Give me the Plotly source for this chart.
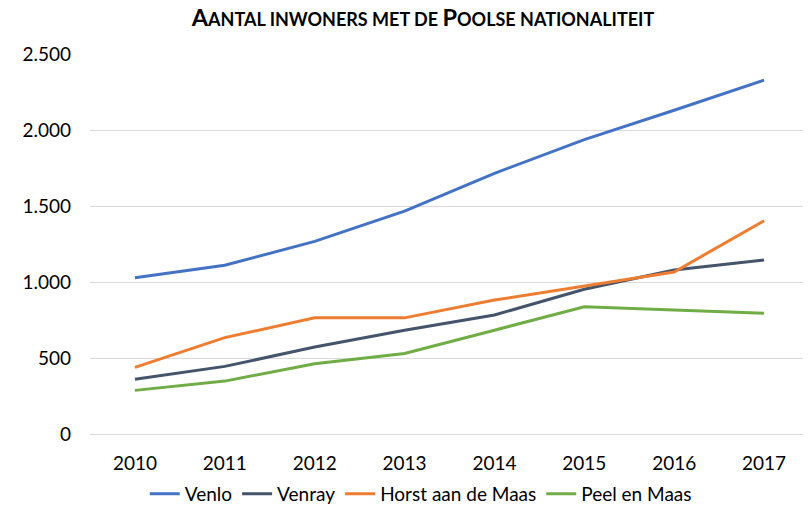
import plotly.graph_objects as go

years = ["2010", "2011", "2012", "2013", "2014", "2015", "2016", "2017"]
venlo = [1028, 1110, 1267, 1466, 1715, 1937, 2130, 2328]
venray = [360, 445, 572, 683, 783, 952, 1079, 1145]
horst = [438, 634, 764, 764, 881, 972, 1066, 1403]
peel = [287, 348, 462, 530, 683, 837, 815, 794]

series = [
    ("Venlo", venlo, "#4472C4"),
    ("Venray", venray, "#44546A"),
    ("Horst aan de Maas", horst, "#ED7D31"),
    ("Peel en Maas", peel, "#70AD47"),
]

fig = go.Figure()
for name, vals, col in series:
    fig.add_trace(go.Scatter(x=years, y=vals, name=name, mode="lines",
                             line=dict(color=col, width=3)))

font_family = "Lato, 'Open Sans', sans-serif"
big = "<span style='font-size:23.5px'>{}</span>"
title_text = (big.format("A") + "ANTAL INWONERS MET DE " + big.format("P")
              + "OOLSE NATIONALITEIT")

fig.update_layout(
    width=803, height=500,
    margin=dict(l=82, r=2, t=46, b=74, autoexpand=False),
    paper_bgcolor="white", plot_bgcolor="white",
    separators=",.",
    font=dict(family=font_family, size=19, color="#000000"),
    title=dict(text=title_text,
               x=0.5168, xanchor="center", xref="container",
               y=0.976, yanchor="middle", yref="container",
               font=dict(family=font_family, size=18, color="#000000",
                         weight="bold")),
    xaxis=dict(type="category", range=[-0.5, 7.5], showgrid=False,
               showline=False, zeroline=False, automargin=False,
               ticks="", tickfont=dict(size=19), ticklabelstandoff=16),
    yaxis=dict(range=[0, 2500], dtick=500, tickformat=",d", showgrid=True,
               gridcolor="#D9D9D9", gridwidth=1, zeroline=True,
               zerolinecolor="#D9D9D9", zerolinewidth=1, showline=False,
               automargin=False,
               ticks="", tickfont=dict(size=19), ticklabelstandoff=18),
    legend=dict(orientation="h", x=0.514, xanchor="center", xref="container",
                y=0.028, yanchor="middle", yref="container",
                font=dict(size=19), itemwidth=30, tracegroupgap=0),
    showlegend=True,
)

fig.write_html("out.html")
